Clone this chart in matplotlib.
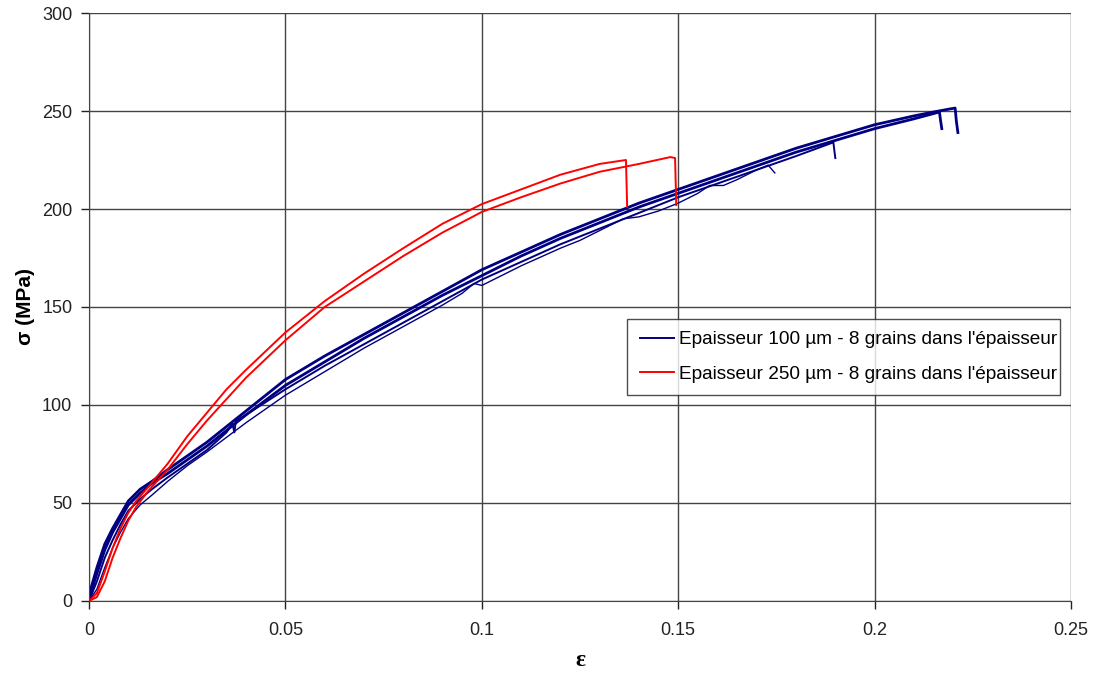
import numpy as np
import matplotlib.pyplot as plt

plt.rcParams['font.family'] = ['Liberation Sans', 'DejaVu Sans']

# strain / stress
# blue: 100 um thick, 4 tests
a_eps = [0, 0.002, 0.004, 0.006, 0.008, 0.01, 0.013, 0.016, 0.02, 0.025, 0.03, 0.04, 0.05, 0.06,
         0.07, 0.08, 0.09, 0.095, 0.098, 0.1, 0.105, 0.11, 0.12, 0.125, 0.13, 0.136, 0.14, 0.145,
         0.15, 0.155, 0.158, 0.1615, 0.165, 0.17, 0.1729, 0.1746]
a_sig = [0, 6, 17, 27, 35, 42, 49, 54, 61, 69, 76, 91, 105, 117,
         129, 140, 151, 157, 162, 161, 166, 171, 180, 184, 189, 195, 196, 199,
         203, 208, 212, 212, 215, 220, 222.4, 218.4]

b_eps = [0, 0.002, 0.004, 0.006, 0.008, 0.01, 0.013, 0.016, 0.02, 0.025, 0.03, 0.035, 0.0365,
         0.037, 0.0374, 0.04, 0.05, 0.06, 0.07, 0.08, 0.09, 0.1, 0.11, 0.12, 0.13, 0.14, 0.15,
         0.16, 0.17, 0.18, 0.1895, 0.1898, 0.19]
b_sig = [0, 10, 22, 31, 39, 46, 52, 57, 63, 70, 77, 86, 90.5,
         86, 92, 95, 108, 120, 131, 142, 153, 164, 173, 182, 190, 198, 206,
         213, 220, 227, 234, 229, 226]

c_eps = [0, 0.002, 0.004, 0.006, 0.008, 0.01, 0.013, 0.016, 0.02, 0.025, 0.03, 0.04, 0.05, 0.06,
         0.07, 0.08, 0.09, 0.1, 0.11, 0.12, 0.13, 0.14, 0.15, 0.16, 0.17, 0.18, 0.19, 0.2, 0.21,
         0.2165, 0.2168, 0.2171]
c_sig = [1, 14, 26, 35, 42, 49, 55, 60, 65, 72, 79, 95, 110, 122,
         134, 145, 156, 166, 176, 185, 193, 201, 208, 215, 222, 229, 235, 241, 246,
         249.5, 245, 241]

d_eps = [0, 0.002, 0.004, 0.006, 0.008, 0.01, 0.013, 0.016, 0.02, 0.025, 0.03, 0.04, 0.05, 0.06,
         0.07, 0.08, 0.09, 0.1, 0.11, 0.12, 0.13, 0.14, 0.15, 0.16, 0.17, 0.18, 0.19, 0.2, 0.21,
         0.215, 0.219, 0.2205, 0.2208, 0.2212]
d_sig = [3, 17, 29, 37, 44, 51, 57, 61, 67, 74, 81, 97, 113, 125,
         136, 147, 158, 169, 178, 187, 195, 203, 210, 217, 224, 231, 237, 243, 247.5,
         249.5, 251, 251.5, 245, 239]

# red: 250 um thick, 2 tests
r1_eps = [0, 0.002, 0.004, 0.006, 0.008, 0.01, 0.012, 0.015, 0.02, 0.025, 0.03, 0.035, 0.04,
          0.05, 0.06, 0.07, 0.08, 0.09, 0.1, 0.11, 0.12, 0.13, 0.135, 0.1367, 0.137]
r1_sig = [0, 4, 15, 27, 37, 45, 51, 58, 70, 84, 96, 108, 118,
          137, 153, 167, 180, 192.5, 202.5, 210, 217.5, 223, 224.5, 225, 201]

r2_eps = [0, 0.002, 0.004, 0.006, 0.008, 0.01, 0.012, 0.015, 0.02, 0.025, 0.03, 0.035, 0.04,
          0.05, 0.06, 0.07, 0.08, 0.09, 0.1, 0.11, 0.12, 0.13, 0.14, 0.148, 0.1492, 0.1495]
r2_sig = [0, 2, 10, 22, 32, 41, 48, 56, 67, 80, 92, 103, 114,
          133, 150, 163, 176, 188, 198.5, 206, 213, 219, 223, 226.5, 226, 202]

x_ticks = [0, 0.05, 0.1, 0.15, 0.2, 0.25]
x_labels = ['0', '0.05', '0.1', '0.15', '0.2', '0.25']
y_ticks = [0, 50, 100, 150, 200, 250, 300]

blue = '#000080'
red = '#ff0000'

fig = plt.figure(figsize=(10.95, 6.78), dpi=100)
ax = fig.add_axes([0.0813, 0.1136, 0.8968, 0.8672])

ax.plot(a_eps, a_sig, color=blue, lw=1.0)
ax.plot(b_eps, b_sig, color=blue, lw=1.4)
ax.plot(c_eps, c_sig, color=blue, lw=2.0)
ax.plot(d_eps, d_sig, color=blue, lw=2.0, label="Epaisseur 100 µm - 8 grains dans l'épaisseur")
ax.plot(r1_eps, r1_sig, color=red, lw=1.4, label="Epaisseur 250 µm - 8 grains dans l'épaisseur")
ax.plot(r2_eps, r2_sig, color=red, lw=1.4)

ax.set_xlim(0, 0.25)
ax.set_ylim(0, 300)
ax.set_xticks(x_ticks)
ax.set_xticklabels(x_labels)
ax.set_yticks(y_ticks)
ax.tick_params(direction='out', length=6, width=1, labelsize=13, colors='#222222')
ax.tick_params(axis='y', pad=6)
ax.tick_params(axis='x', pad=9)
ax.grid(True, color='#444444', lw=1)
ax.set_axisbelow(True)
for s in ['top', 'right']:
    ax.spines[s].set_visible(False)
for s in ['left', 'bottom']:
    ax.spines[s].set_color('#444444')

ax.set_ylabel('σ (MPa)', fontsize=15, fontweight='bold', labelpad=5)
ax.set_xlabel('ε', fontsize=17, fontweight='bold', family=['Liberation Serif', 'DejaVu Serif'], labelpad=8)

leg = ax.legend(loc='lower left', bbox_to_anchor=(0.548, 0.35, 0.441, 0.131), mode='expand',
                fontsize=13.7, frameon=True, fancybox=False, edgecolor='#222222',
                handlelength=1.8, handletextpad=0.25, borderpad=0.65, labelspacing=0.9, borderaxespad=0)
leg.get_frame().set_linewidth(1.0)
for line in leg.get_lines():
    line.set_linewidth(1.4)

fig.savefig('out.png', dpi=100)
